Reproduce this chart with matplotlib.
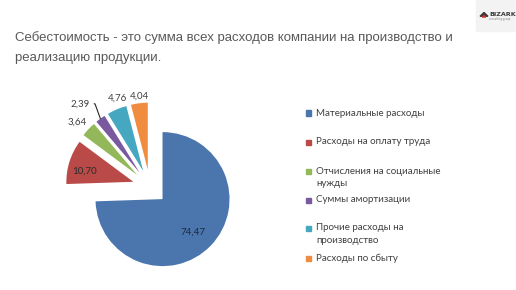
import matplotlib
matplotlib.use("Agg")
import matplotlib.pyplot as plt
from matplotlib.patches import Rectangle, RegularPolygon
import numpy as np

values = [74.47, 10.70, 3.64, 2.39, 4.76, 4.04]
value_labels = ['74,47', '10,70', '3,64', '2,39', '4,76', '4,04']
categories = ['Материальные расходы', 'Расходы на оплату труда',
              'Отчисления на социальные\nнужды', 'Суммы амортизации',
              'Прочие расходы на\nпроизводство', 'Расходы по сбыту']
colors = ['#4a76ad', '#b94a48', '#93b85a', '#7a5a9e', '#46a7c0', '#ef8c3f']
title_lines = ['Себестоимость - это сумма всех расходов компании на производство и',
               'реализацию продукции.']

W, H = 516, 290
fig = plt.figure(figsize=(W / 100, H / 100), dpi=100)
ax = fig.add_axes([0, 0, 1, 1])

# pie centre / radius in pixels
R = 67
cx, cy = 150, 187
wedges, _ = ax.pie(values, colors=colors, startangle=90, counterclock=False,
                   explode=[0.26] * len(values), radius=1,
                   wedgeprops=dict(linewidth=0))
ax.set_xlim(-cx / R, (W - cx) / R)
ax.set_ylim(-(H - cy) / R, cy / R)
ax.set_aspect('auto')
ax.axis('off')

# value labels
label_dist = [0.67, 0.74, 1.19, 1.36, 1.15, 1.11]
label_shift = [-3, 5, 2, 4.7, -4.0, -1]
label_col = ['#1f2a3a', '#2b2b2b', '#404040', '#404040', '#404040', '#404040']
for i, (w, txt) in enumerate(zip(wedges, value_labels)):
    mid = (w.theta1 + w.theta2) / 2
    a = np.deg2rad(mid + label_shift[i])
    x0, y0 = w.center
    tx, ty = x0 + label_dist[i] * np.cos(a), y0 + label_dist[i] * np.sin(a)
    if i == 3:
        m = np.deg2rad(mid)
        ex, ey = x0 + np.cos(m), y0 + np.sin(m)
        ax.annotate(txt, xy=(ex, ey), xytext=(tx, ty), ha='center', va='center',
                    fontsize=7.0, family='Lato', color=label_col[i],
                    arrowprops=dict(arrowstyle='-', color='#262626', lw=0.8,
                                    shrinkA=1, shrinkB=0,
                                    connectionstyle='angle,angleA=0,angleB=110,rad=0'))
    else:
        ax.text(tx, ty, txt, ha='center', va='center', fontsize=7.0,
                family='Lato', color=label_col[i])

# title
for k, line in enumerate(title_lines):
    fig.text(15 / W, 1 - (38 + 20 * k) / H, line, fontsize=9.5, family='Liberation Sans',
             color='#595959', va='center', ha='left')

# legend
leg_y = [113, 142, 171, 200, 228, 258]
for c, lab, y in zip(colors, categories, leg_y):
    fig.patches.append(Rectangle((306 / W, 1 - (y + 2.5) / H), 5 / W, 5 / H,
                                 transform=fig.transFigure, color=c, figure=fig))
    fig.text(316 / W, 1 - (y - 4.5) / H, lab, fontsize=7.0, family='Lato',
             color='#404040', va='top', ha='left', linespacing=1.45)

# logo
fig.patches.append(Rectangle((476 / W, 1 - 31 / H), 40 / W, 31 / H,
                             transform=fig.transFigure, color='#f3f3f3', figure=fig))
fig.patches.append(RegularPolygon((484 / W, 1 - 15 / H), 3, radius=4.5 / W,
                                  transform=fig.transFigure, color='#3a3a3a', figure=fig))
fig.patches.append(RegularPolygon((484 / W, 1 - 16.5 / H), 3, radius=2 / W,
                                  transform=fig.transFigure, color='#d0312d', figure=fig))
fig.text(489 / W, 1 - 14 / H, 'BIZARK', fontsize=4.6, color='#3a3a3a', ha='left', va='center',
         family='DejaVu Sans', weight='bold')
fig.text(489 / W, 1 - 19 / H, 'consulting group', fontsize=1.8, color='#777777', ha='left',
         va='center', family='DejaVu Sans')

fig.savefig('out.png', dpi=100, facecolor='white')
